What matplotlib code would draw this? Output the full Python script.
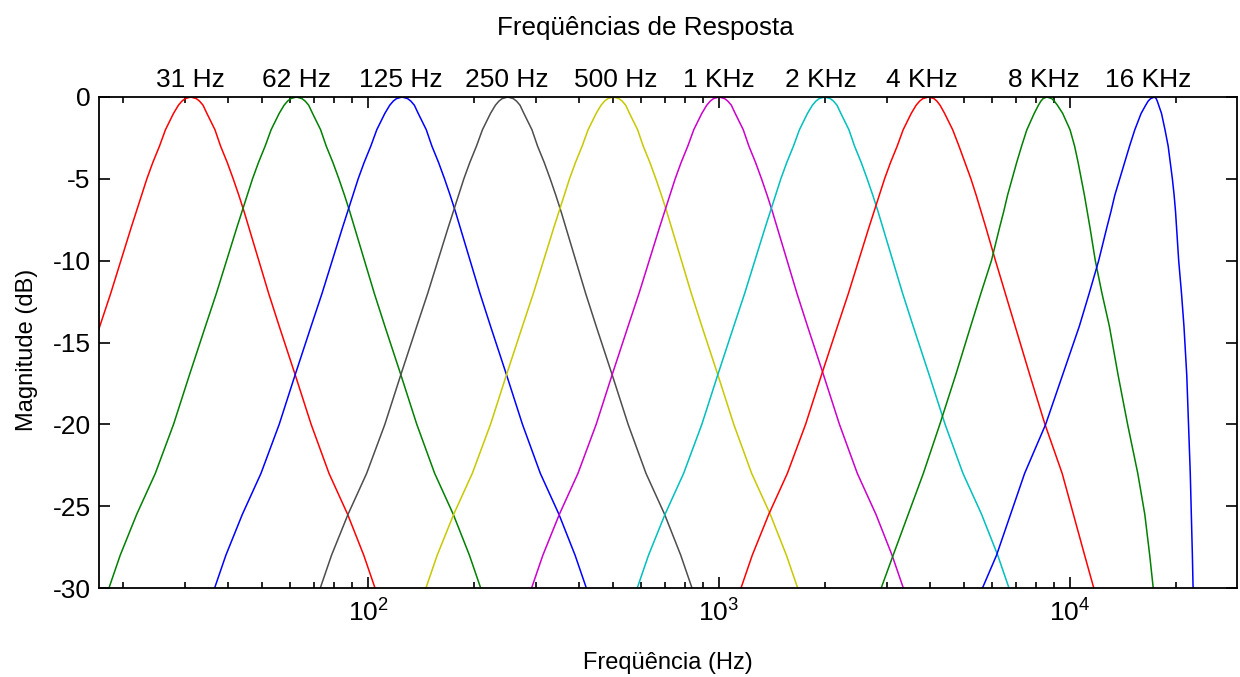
import numpy as np
import matplotlib
matplotlib.use('Agg')
import matplotlib.pyplot as plt
from matplotlib.ticker import LogLocator, NullFormatter

plt.rcParams['font.family'] = ['Liberation Sans', 'DejaVu Sans']
plt.rcParams['axes.unicode_minus'] = False

# octave band filter bank, 31 Hz .. 16 kHz
band_labels = ['31 Hz', '62 Hz', '125 Hz', '250 Hz', '500 Hz',
               '1 KHz', '2 KHz', '4 KHz', '8 KHz', '16 KHz']
label_hz = [31.2, 62.7, 124, 248, 508, 997, 1955, 3790, 8430, 16700]
center_hz = [31.25, 62.5, 125, 250, 500, 1000, 2000, 3950, 8590, 17400]
colors = ['#ff0000', '#008000', '#0000ff', '#4d4d4d', '#c8c800',
          '#cc00cc', '#00bfbf', '#ff0000', '#008000', '#0000ff']

# magnitude levels (dB) and distance from the peak (decades) on each side
levels_db = [0, -0.1, -0.25, -0.5, -1, -2, -3, -4, -5, -6, -7, -8,
             -10, -12, -14, -17, -20, -23, -25.5, -28, -30, -33]
low_side = [0, .016, .025, .035, .049, .072, .089, .108, .125, .140, .155, .170,
            .199, .228, .259, .305, .350, .402, .455, .502, .534, .585]
high_side = [0, .016, .025, .035, .046, .069, .085, .104, .121, .137, .152, .166,
             .194, .222, .252, .298, .343, .394, .447, .493, .525, .575]
high_side_4k = [0, .016, .024, .033, .046, .069, .087, .104, .121, .136, .150, .164,
                .191, .219, .247, .289, .332, .381, .413, .445, .471, .510]
low_side_8k = [0, .011, .017, .024, .036, .057, .072, .086, .099, .112, .123, .135,
               .158, .188, .217, .260, .305, .352, .395, .438, .472, .520]
high_side_8k = [0, .014, .021, .030, .045, .066, .079, .089, .098, .107, .115, .123,
                .138, .157, .178, .203, .230, .259, .279, .293, .303, .318]
low_side_16k = [0, .011, .018, .025, .038, .056, .071, .085, .099, .113, .124, .136,
                .159, .186, .214, .262, .310, .370, .410, .450, .490, .540]
high_side_16k = [0, .005, .008, .012, .020, .030, .039, .045, .051, .056, .060, .063,
                 .069, .077, .084, .092, .097, .102, .105, .108, .110, .113]

sides = [(low_side, high_side)] * 7 + [(low_side, high_side_4k),
                                       (low_side_8k, high_side_8k),
                                       (low_side_16k, high_side_16k)]

fig = plt.figure(figsize=(12.4, 6.77), dpi=100)
ax = fig.add_axes([99 / 1240, 1 - 588 / 677, 1138 / 1240, 491 / 677])

lev = np.array(levels_db)
for fc, (lo, hi), col in zip(center_hz, sides, colors):
    f = np.concatenate([fc / 10 ** np.array(lo[::-1]), fc * 10 ** np.array(hi[1:])])
    mag = np.concatenate([lev[::-1], lev[1:]])
    ax.plot(f, mag, color=col, lw=1.1)

ax.set_xscale('log')
ax.set_xlim(17.12, 29900)
ax.set_ylim(-30, 0)
ax.set_yticks(range(-30, 1, 5))
ax.xaxis.set_major_locator(LogLocator(base=10, numticks=10))
ax.xaxis.set_minor_locator(LogLocator(base=10, subs=np.arange(2, 10), numticks=20))
ax.xaxis.set_minor_formatter(NullFormatter())

for s in ax.spines.values():
    s.set_linewidth(1.3)
ax.tick_params(which='both', direction='in', top=True, right=True,
               labelsize=19, width=1.2)
ax.tick_params(which='major', length=8)
ax.tick_params(which='minor', length=4.5)
ax.tick_params(axis='y', pad=6)
ax.tick_params(axis='x', pad=8)

for hz, txt in zip(label_hz, band_labels):
    ax.text(hz, 1.0204, txt, transform=ax.get_xaxis_transform(),
            ha='center', va='baseline', fontsize=19)

fig.text(645 / 1240, 1 - 28 / 677, 'Freqüências de Resposta',
         ha='center', va='center', fontsize=18.7)
ax.set_xlabel('Freqüência (Hz)', fontsize=17)
ax.xaxis.set_label_coords(0.5, -0.130)
ax.set_ylabel('Magnitude (dB)', fontsize=17)
ax.yaxis.set_label_coords(-0.054, 0.484)

fig.savefig('out.png', dpi=100)
